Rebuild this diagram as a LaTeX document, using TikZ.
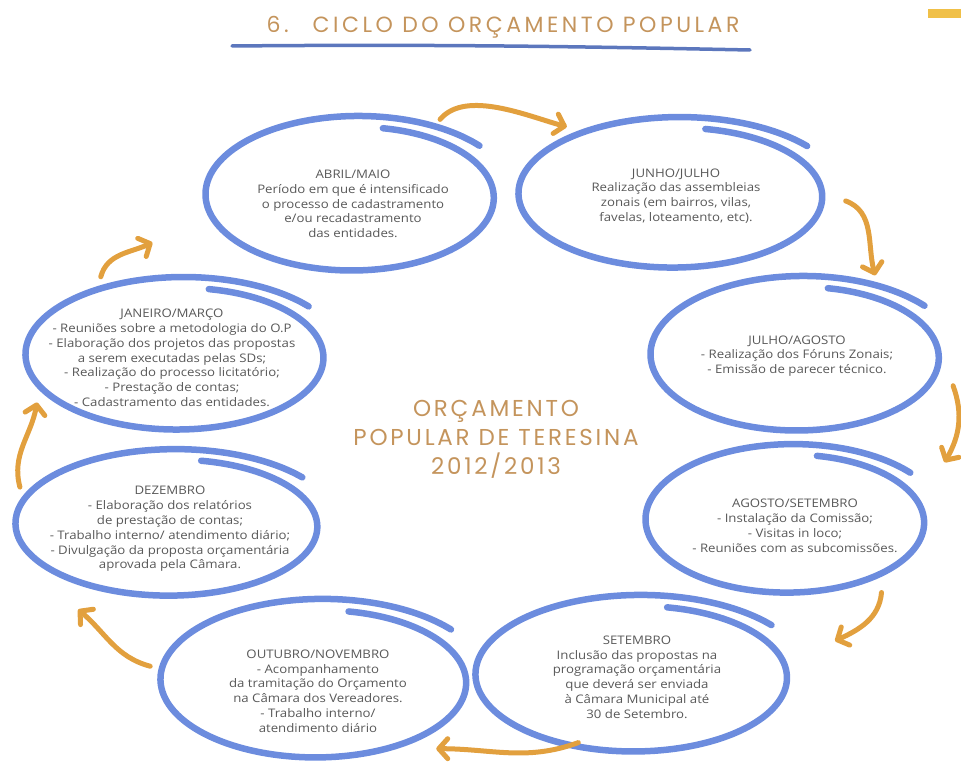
\documentclass[tikz,border=0pt]{standalone}
\usepackage{fontspec}
\setmainfont[FakeStretch=1.12]{Open Sans}
\newfontfamily\handfont[LetterSpace=12]{Poppins}
\newfontfamily\titlefont[LetterSpace=16]{Poppins}
\usetikzlibrary{arrows.meta, shapes.geometric}

\definecolor{ringblue}{RGB}{108,140,222}
\definecolor{arrowgold}{RGB}{226,160,62}
\definecolor{handtan}{RGB}{196,148,92}
\definecolor{txtgray}{RGB}{88,88,88}
\definecolor{tabgold}{RGB}{240,192,72}

% spiral brush stroke round a stage
\newcommand{\brushring}[3]{%
  \begin{scope}[shift={(#1.center)}]
    \draw[ringblue, line width=6.5pt, line cap=round]
      plot[domain=-78:322, samples=100, smooth]
      ({#2*(0.90+0.16*(\x+78)/400)*cos(\x)}, {#3*(0.90+0.16*(\x+78)/400)*sin(\x)});
  \end{scope}}

\begin{document}
\begin{tikzpicture}[x=1pt, y=-1pt]
\tikzstyle{stage}=[ellipse, inner sep=0pt, outer sep=0pt]
\tikzstyle{lbl}=[align=center, text=txtgray, font=\fontsize{11.8}{14.8}\selectfont]
\tikzstyle{hand}=[align=center, text=handtan, font=\handfont\fontsize{23}{29}\selectfont]
\tikzstyle{turn}=[arrowgold, line width=5pt, line cap=round, -{Straight Barb[round, length=9pt, width=20pt]}]
\useasboundingbox (0,0) rectangle (961,765);

% title
\node[hand, font=\titlefont\fontsize{22}{24}\selectfont] (title) at (503,27) {6.\hspace{24pt}CICLO DO ORÇAMENTO POPULAR};
\draw[ringblue!85!black, line width=3.5pt, line cap=round] (232,46) .. controls (450,44) and (600,47) .. (750,50);
\fill[tabgold] (928,9) rectangle (961,18);

% stages
\node[stage, minimum width=324pt, minimum height=180pt] (abril) at (355,196) {};
\node[stage, minimum width=340pt, minimum height=178pt] (junho) at (676,195) {};
\node[stage, minimum width=334pt, minimum height=180pt] (janeiro) at (180,356) {};
\node[stage, minimum width=324pt, minimum height=182pt] (julho) at (800,356) {};
\node[stage, minimum width=338pt, minimum height=174pt] (dezembro) at (172,525) {};
\node[stage, minimum width=314pt, minimum height=176pt] (agosto) at (790,521) {};
\node[stage, minimum width=342pt, minimum height=186pt] (outubro) at (319,681) {};
\node[stage, minimum width=348pt, minimum height=184pt] (setembro) at (637,676) {};

\brushring{abril}{149}{77}
\brushring{junho}{157}{75}
\brushring{janeiro}{154}{76}
\brushring{julho}{149}{77}
\brushring{dezembro}{156}{73}
\brushring{agosto}{144}{74}
\brushring{outubro}{158}{79}
\brushring{setembro}{161}{78}

\node[lbl] (tabril) at (353,204) {ABRIL/MAIO\\Período em que é intensificado\\o processo de cadastramento\\e/ou recadastramento\\das entidades.};
\node[lbl] (tjunho) at (676,196) {JUNHO/JULHO\\Realização das assembleias\\zonais (em bairros, vilas,\\favelas, loteamento, etc).};
\node[lbl] (tjaneiro) at (172,358) {JANEIRO/MARÇO\\- Reuniões sobre a metodologia do O.P\\- Elaboração dos projetos das propostas\\a serem executadas pelas SDs;\\- Realização do processo licitatório;\\- Prestação de contas;\\- Cadastramento das entidades.};
\node[lbl] (tjulho) at (797,356) {JULHO/AGOSTO\\- Realização dos Fóruns Zonais;\\- Emissão de parecer técnico.};
\node[lbl] (tdezembro) at (170,529) {DEZEMBRO\\- Elaboração dos relatórios\\de prestação de contas;\\- Trabalho interno/ atendimento diário;\\- Divulgação da proposta orçamentária\\aprovada pela Câmara.};
\node[lbl] (tagosto) at (795,526) {AGOSTO/SETEMBRO\\- Instalação da Comissão;\\- Visitas in loco;\\- Reuniões com as subcomissões.};
\node[lbl] (toutubro) at (318,691) {OUTUBRO/NOVEMBRO\\- Acompanhamento\\da tramitação do Orçamento\\na Câmara dos Vereadores.\\- Trabalho interno/\\atendimento diário};
\node[lbl] (tsetembro) at (637,677) {SETEMBRO\\Inclusão das propostas na\\programação orçamentária\\que deverá ser enviada\\à Câmara Municipal até\\30 de Setembro.};

\node[hand] (centre) at (496,439) {ORÇAMENTO\\POPULAR DE TERESINA\\2012/2013};

\path
(abril.42) edge[turn, out=50, in=165, looseness=0.8] (junho.148)
(junho.-2) edge[turn, out=-20, in=105] (julho.47)
(julho.-11) edge[turn, out=-70, in=60] ([xshift=25pt, yshift=9pt]agosto.21)
(agosto.-38) edge[turn, out=-95, in=25] ([xshift=33pt, yshift=6pt]setembro.10)
([xshift=14pt, yshift=17pt]setembro.-131) edge[turn, out=200, in=0] (outubro.-30)
(outubro.175) edge[turn, out=165, in=-40] ([xshift=-10pt, yshift=-9pt]dezembro.222)
(dezembro.166) edge[turn, out=105, in=-100] (janeiro.198)
(janeiro.135) edge[turn, out=75, in=205] ([xshift=-53pt, yshift=-12pt]abril.193);

\end{tikzpicture}
\end{document}
